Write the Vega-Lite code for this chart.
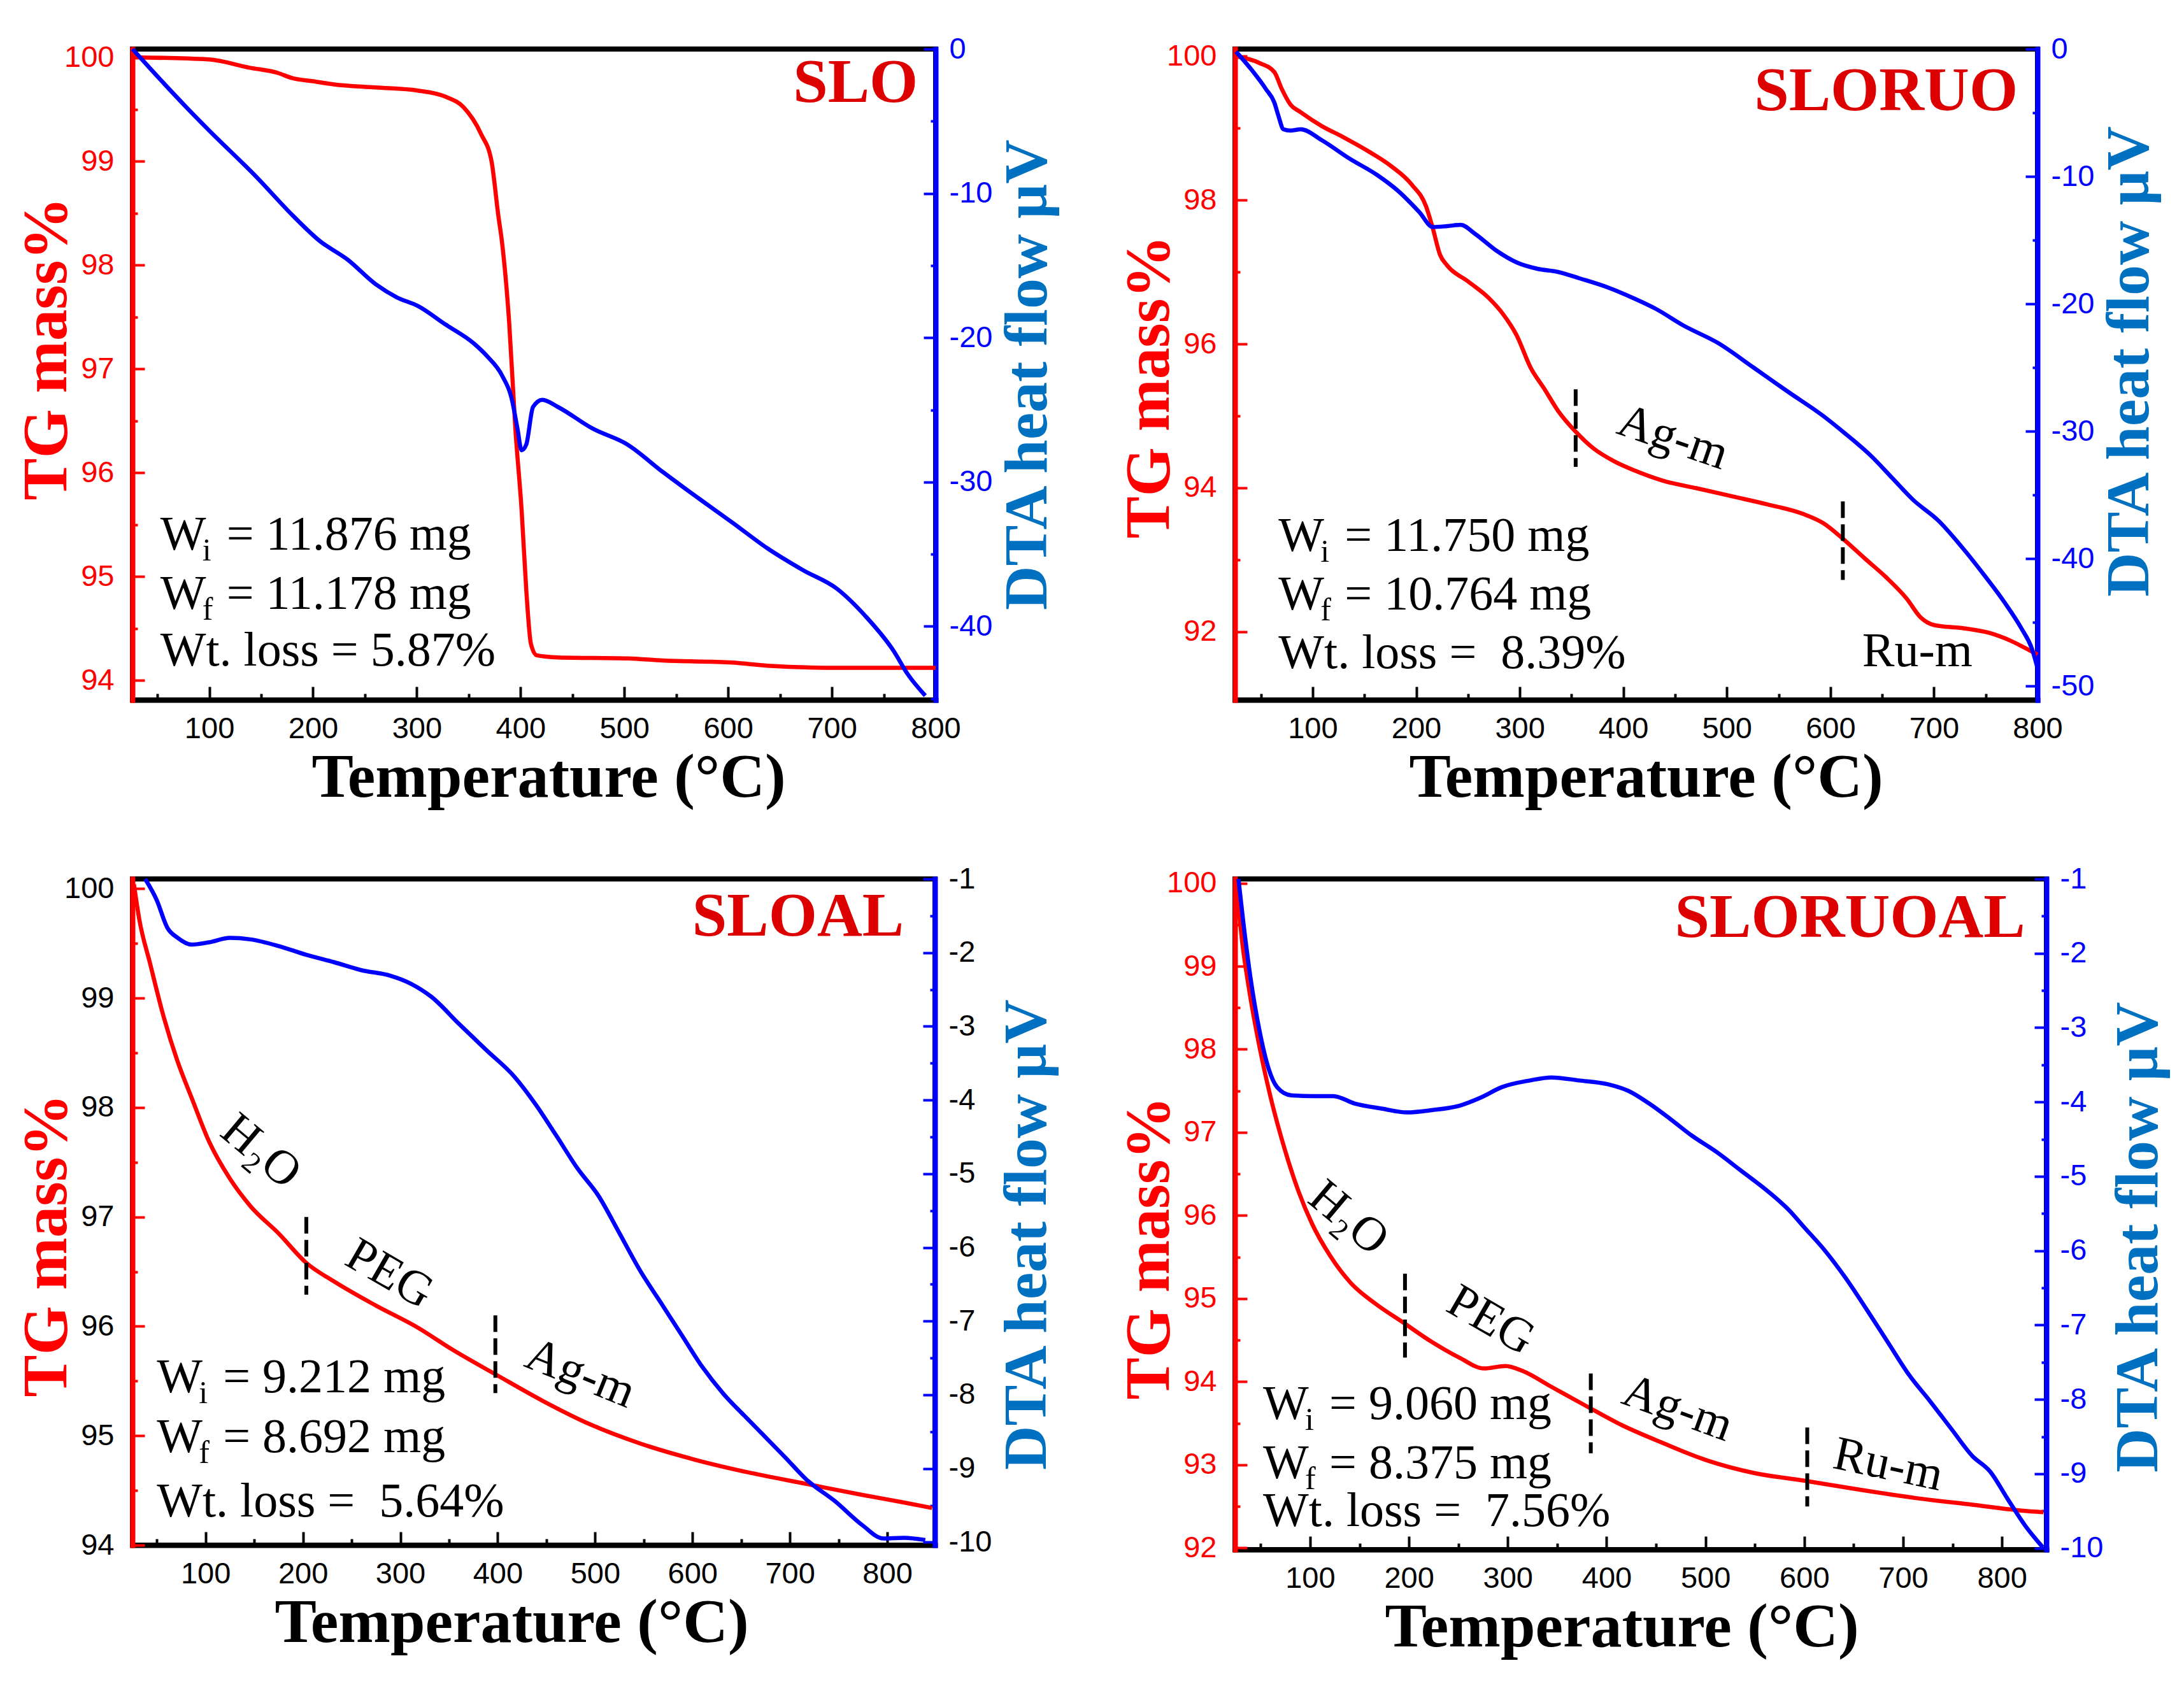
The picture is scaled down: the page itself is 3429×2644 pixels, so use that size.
{
  "$schema": "https://vega.github.io/schema/vega-lite/v6.json",
  "description": "TG / DTA curves of SLO, SLORUO, SLOAL and SLORUOAL",
  "background": "white",
  "padding": {"left": 20, "top": 49, "right": 10, "bottom": 10},
  "autosize": {"type": "pad"},
  "columns": 2,
  "spacing": {"row": 281, "column": 470},
  "bounds": "flush",
  "datasets": {
    "p1tg": [
      {"T": 26, "val": 100.0}, {"T": 99, "val": 99.98}, {"T": 139, "val": 99.9}, {"T": 166, "val": 99.85},
      {"T": 180, "val": 99.8}, {"T": 200, "val": 99.77}, {"T": 220, "val": 99.74}, {"T": 260, "val": 99.71},
      {"T": 301, "val": 99.68}, {"T": 328, "val": 99.62}, {"T": 345, "val": 99.52}, {"T": 362, "val": 99.26},
      {"T": 372, "val": 99.0}, {"T": 378.5, "val": 98.48}, {"T": 382, "val": 98.23}, {"T": 389, "val": 97.45},
      {"T": 395, "val": 96.42}, {"T": 401, "val": 95.64}, {"T": 405.5, "val": 94.87}, {"T": 410, "val": 94.35},
      {"T": 415.6, "val": 94.24}, {"T": 436, "val": 94.22}, {"T": 503, "val": 94.21}, {"T": 537, "val": 94.19},
      {"T": 604, "val": 94.17}, {"T": 638, "val": 94.14}, {"T": 705, "val": 94.12}, {"T": 800, "val": 94.12}
    ],
    "p1dta": [
      {"T": 26, "val": 0}, {"T": 44.7, "val": -1.48}, {"T": 78.4, "val": -4.07}, {"T": 98.7, "val": -5.56},
      {"T": 146, "val": -8.9}, {"T": 180, "val": -11.5}, {"T": 206.5, "val": -13.3}, {"T": 233.5, "val": -14.6},
      {"T": 260.5, "val": -16.3}, {"T": 280.7, "val": -17.2}, {"T": 301, "val": -17.8}, {"T": 328, "val": -19.1},
      {"T": 355, "val": -20.4}, {"T": 368, "val": -21.3}, {"T": 382, "val": -22.6}, {"T": 392, "val": -24.4},
      {"T": 397, "val": -26.3}, {"T": 401, "val": -27.8}, {"T": 405.5, "val": -27.4}, {"T": 412, "val": -24.8},
      {"T": 421, "val": -24.3}, {"T": 436, "val": -24.8}, {"T": 469.5, "val": -26.3}, {"T": 503, "val": -27.4},
      {"T": 537, "val": -29.3}, {"T": 571, "val": -31.1}, {"T": 604, "val": -32.8}, {"T": 638, "val": -34.6},
      {"T": 672, "val": -36.1}, {"T": 705, "val": -37.4}, {"T": 732.5, "val": -39.3}, {"T": 759.5, "val": -41.7},
      {"T": 773, "val": -43.3}, {"T": 790, "val": -44.8}
    ],
    "p1note": [
      {"T": 52.8, "y": 95.26, "w": "W", "s": "i", "r": "= 11.876 mg"},
      {"T": 52.8, "y": 94.69, "w": "W", "s": "f", "r": "= 11.178 mg"},
      {"T": 52.8, "y": 94.14, "w": "Wt. loss = 5.87%", "s": "", "r": ""}
    ],
    "p2tg": [
      {"T": 26, "val": 100.0}, {"T": 48, "val": 99.91}, {"T": 63, "val": 99.78}, {"T": 70, "val": 99.55},
      {"T": 78.5, "val": 99.33}, {"T": 88.6, "val": 99.22}, {"T": 108.7, "val": 99.03}, {"T": 129, "val": 98.88},
      {"T": 156, "val": 98.66}, {"T": 176, "val": 98.47}, {"T": 196, "val": 98.21}, {"T": 209.6, "val": 97.91},
      {"T": 216, "val": 97.61}, {"T": 223, "val": 97.24}, {"T": 230, "val": 97.09}, {"T": 250, "val": 96.87},
      {"T": 270, "val": 96.64}, {"T": 283.6, "val": 96.42}, {"T": 297, "val": 96.12}, {"T": 310.5, "val": 95.67},
      {"T": 324, "val": 95.37}, {"T": 337, "val": 95.07}, {"T": 354, "val": 94.78}, {"T": 371, "val": 94.55},
      {"T": 391, "val": 94.37}, {"T": 411, "val": 94.24}, {"T": 438, "val": 94.1}, {"T": 472, "val": 93.99},
      {"T": 505.5, "val": 93.88}, {"T": 539, "val": 93.77}, {"T": 573, "val": 93.64}, {"T": 593, "val": 93.51},
      {"T": 613, "val": 93.28}, {"T": 633, "val": 93.02}, {"T": 653.5, "val": 92.76}, {"T": 673.6, "val": 92.46},
      {"T": 687, "val": 92.2}, {"T": 700.5, "val": 92.09}, {"T": 727, "val": 92.05}, {"T": 754, "val": 91.98},
      {"T": 774.5, "val": 91.87}, {"T": 791, "val": 91.75}, {"T": 800, "val": 91.68}
    ],
    "p2dta": [
      {"T": 26, "val": -0.2}, {"T": 41.5, "val": -1.68}, {"T": 55, "val": -3.16}, {"T": 63, "val": -4.2},
      {"T": 67, "val": -5.26}, {"T": 71.8, "val": -6.3}, {"T": 78.5, "val": -6.4}, {"T": 88.6, "val": -6.3},
      {"T": 108.7, "val": -7.15}, {"T": 135.6, "val": -8.6}, {"T": 162.5, "val": -9.9}, {"T": 182.7, "val": -11.15},
      {"T": 203, "val": -12.8}, {"T": 216, "val": -13.97}, {"T": 230, "val": -13.9}, {"T": 243, "val": -13.8},
      {"T": 256.7, "val": -14.5}, {"T": 277, "val": -15.8}, {"T": 297, "val": -16.75}, {"T": 317, "val": -17.25},
      {"T": 337, "val": -17.5}, {"T": 357.6, "val": -18.0}, {"T": 384.5, "val": -18.7}, {"T": 411, "val": -19.6},
      {"T": 431.5, "val": -20.4}, {"T": 458, "val": -21.7}, {"T": 492, "val": -23.1}, {"T": 525.7, "val": -25.0},
      {"T": 559, "val": -26.9}, {"T": 593, "val": -28.8}, {"T": 613, "val": -30.1}, {"T": 640, "val": -32.0},
      {"T": 660, "val": -33.7}, {"T": 680, "val": -35.4}, {"T": 704, "val": -37.0}, {"T": 727, "val": -39.1},
      {"T": 747.6, "val": -41.2}, {"T": 767.8, "val": -43.4}, {"T": 784.6, "val": -45.5}, {"T": 794.7, "val": -47.1},
      {"T": 800, "val": -48.6}
    ],
    "p2note": [
      {"T": 67, "y": 93.12, "w": "W", "s": "i", "r": "= 11.750 mg"},
      {"T": 67, "y": 92.31, "w": "W", "s": "f", "r": "= 10.764 mg"},
      {"T": 67, "y": 91.49, "w": "Wt. loss = \u00a08.39%", "s": "", "r": ""}
    ],
    "p2lab": [
      {"T": 448, "y": 94.7, "lab": "Ag-m", "a": 19},
      {"T": 684, "y": 91.72, "lab": "Ru-m", "a": 0}
    ],
    "p2cut": [
      {"T": 354, "y1": 95.37, "y2": 94.29},
      {"T": 612, "y1": 93.81, "y2": 92.72}
    ],
    "p3tg": [
      {"T": 26.5, "val": 100.04}, {"T": 32, "val": 99.72}, {"T": 43, "val": 99.32}, {"T": 57, "val": 98.83},
      {"T": 71, "val": 98.43}, {"T": 85.7, "val": 98.09}, {"T": 103.6, "val": 97.69}, {"T": 125, "val": 97.35},
      {"T": 146, "val": 97.1}, {"T": 175, "val": 96.85}, {"T": 203.5, "val": 96.58}, {"T": 232, "val": 96.41},
      {"T": 275, "val": 96.19}, {"T": 317.7, "val": 95.99}, {"T": 353, "val": 95.79}, {"T": 400, "val": 95.55},
      {"T": 446, "val": 95.32}, {"T": 496, "val": 95.1}, {"T": 546, "val": 94.93}, {"T": 603, "val": 94.78},
      {"T": 660, "val": 94.66}, {"T": 717, "val": 94.56}, {"T": 774, "val": 94.46}, {"T": 817, "val": 94.39},
      {"T": 846, "val": 94.34}
    ],
    "p3dta": [
      {"T": 38, "val": -1.0}, {"T": 50, "val": -1.29}, {"T": 60.7, "val": -1.66}, {"T": 71.5, "val": -1.8},
      {"T": 85.7, "val": -1.89}, {"T": 103.6, "val": -1.86}, {"T": 125, "val": -1.8}, {"T": 146, "val": -1.82},
      {"T": 175, "val": -1.91}, {"T": 203.5, "val": -2.03}, {"T": 232, "val": -2.13}, {"T": 260.6, "val": -2.24},
      {"T": 289, "val": -2.31}, {"T": 310.6, "val": -2.42}, {"T": 332, "val": -2.6}, {"T": 360.5, "val": -2.97},
      {"T": 389, "val": -3.33}, {"T": 417.6, "val": -3.69}, {"T": 439, "val": -4.06}, {"T": 460.5, "val": -4.49},
      {"T": 482, "val": -4.93}, {"T": 503, "val": -5.29}, {"T": 524.7, "val": -5.8}, {"T": 546, "val": -6.31},
      {"T": 567.5, "val": -6.75}, {"T": 589, "val": -7.19}, {"T": 610, "val": -7.62}, {"T": 632, "val": -7.99},
      {"T": 653, "val": -8.28}, {"T": 674.6, "val": -8.57}, {"T": 696, "val": -8.86}, {"T": 717, "val": -9.15},
      {"T": 746, "val": -9.44}, {"T": 774.5, "val": -9.77}, {"T": 796, "val": -9.95}, {"T": 817, "val": -9.94},
      {"T": 839, "val": -9.97}
    ],
    "p3note": [
      {"T": 50, "y": 95.4, "w": "W", "s": "i", "r": "= 9.212 mg"},
      {"T": 50, "y": 94.85, "w": "W", "s": "f", "r": "= 8.692 mg"},
      {"T": 50, "y": 94.26, "w": "Wt. loss = \u00a05.64%", "s": "", "r": ""}
    ],
    "p3lab": [
      {"T": 157, "y": 97.6, "lab": "H₂O", "a": 40},
      {"T": 289, "y": 96.48, "lab": "PEG", "a": 30},
      {"T": 485, "y": 95.57, "lab": "Ag-m", "a": 22}
    ],
    "p3cut": [
      {"T": 203.5, "y1": 97.0, "y2": 96.29},
      {"T": 397.6, "y1": 96.1, "y2": 95.39}
    ],
    "p4tg": [
      {"T": 25.4, "val": 100.03}, {"T": 31, "val": 99.32}, {"T": 38, "val": 98.74}, {"T": 48.8, "val": 98.03},
      {"T": 59.5, "val": 97.45}, {"T": 74, "val": 96.81}, {"T": 88, "val": 96.3}, {"T": 102, "val": 95.9},
      {"T": 120, "val": 95.52}, {"T": 141, "val": 95.19}, {"T": 166, "val": 94.94}, {"T": 194.5, "val": 94.71},
      {"T": 223, "val": 94.48}, {"T": 251, "val": 94.29}, {"T": 276, "val": 94.16}, {"T": 297.6, "val": 94.19},
      {"T": 315, "val": 94.13}, {"T": 344, "val": 93.94}, {"T": 379, "val": 93.71}, {"T": 415, "val": 93.48},
      {"T": 457.5, "val": 93.26}, {"T": 500, "val": 93.06}, {"T": 550, "val": 92.9}, {"T": 600, "val": 92.81},
      {"T": 656.5, "val": 92.7}, {"T": 713, "val": 92.6}, {"T": 770, "val": 92.52}, {"T": 819.6, "val": 92.45},
      {"T": 842, "val": 92.43}
    ],
    "p4dta": [
      {"T": 27.5, "val": -1.0}, {"T": 32.5, "val": -1.59}, {"T": 39.6, "val": -2.32}, {"T": 48.8, "val": -3.04},
      {"T": 58, "val": -3.55}, {"T": 66.6, "val": -3.8}, {"T": 80.8, "val": -3.91}, {"T": 102, "val": -3.92},
      {"T": 123.5, "val": -3.92}, {"T": 145, "val": -4.02}, {"T": 173, "val": -4.09}, {"T": 198, "val": -4.14},
      {"T": 223, "val": -4.11}, {"T": 251, "val": -4.05}, {"T": 272.7, "val": -3.94}, {"T": 294, "val": -3.8},
      {"T": 322.5, "val": -3.71}, {"T": 344, "val": -3.67}, {"T": 372, "val": -3.71}, {"T": 400.6, "val": -3.76},
      {"T": 422, "val": -3.85}, {"T": 443, "val": -4.02}, {"T": 464.6, "val": -4.23}, {"T": 486, "val": -4.45},
      {"T": 511, "val": -4.67}, {"T": 535.7, "val": -4.92}, {"T": 564, "val": -5.21}, {"T": 585, "val": -5.46},
      {"T": 599.6, "val": -5.68}, {"T": 621, "val": -6.0}, {"T": 642, "val": -6.37}, {"T": 663.6, "val": -6.8},
      {"T": 685, "val": -7.24}, {"T": 706, "val": -7.67}, {"T": 727.6, "val": -8.03}, {"T": 749, "val": -8.4},
      {"T": 770, "val": -8.76}, {"T": 788, "val": -8.97}, {"T": 805.8, "val": -9.34}, {"T": 823.6, "val": -9.7},
      {"T": 841.4, "val": -9.99}
    ],
    "p4note": [
      {"T": 52.4, "y": 93.55, "w": "W", "s": "i", "r": "= 9.060 mg"},
      {"T": 52.4, "y": 92.84, "w": "W", "s": "f", "r": "= 8.375 mg"},
      {"T": 52.4, "y": 92.26, "w": "Wt. loss = \u00a07.56%", "s": "", "r": ""}
    ],
    "p4lab": [
      {"T": 139, "y": 95.97, "lab": "H₂O", "a": 40},
      {"T": 283, "y": 94.74, "lab": "PEG", "a": 30},
      {"T": 472, "y": 93.68, "lab": "Ag-m", "a": 20},
      {"T": 685, "y": 93.0, "lab": "Ru-m", "a": 12}
    ],
    "p4cut": [
      {"T": 196, "y1": 95.3, "y2": 94.29},
      {"T": 384, "y1": 94.1, "y2": 93.14},
      {"T": 603, "y1": 93.45, "y2": 92.5}
    ]
  },
  "concat": [
    {
      "width": 1261,
      "height": 1022,
      "layer": [
        {
          "layer": [
            {
              "data": {"name": "p1tg"},
              "mark": {"type": "line", "color": "#ff0000"},
              "encoding": {
                "x": {"field": "T", "type": "quantitative", "scale": {"domain": [26, 800], "nice": false, "zero": false},
                  "axis": {"orient": "bottom", "values": [50, 100, 150, 200, 250, 300, 350, 400, 450, 500, 550, 600, 650, 700, 750, 800],
                    "labelExpr": "datum.value % 100 === 0 ? '' + datum.value : ''",
                    "tickSize": {"condition": {"test": "datum.value % 100 === 0", "value": -21}, "value": -10},
                    "labelPadding": 43, "tickColor": "black", "domainColor": "black", "labelColor": "black",
                    "title": "Temperature (°C)", "titleColor": "black", "titleFontSize": 98, "titleX": 653,
                    "minExtent": 50, "maxExtent": 50, "titlePadding": 24}},
                "y": {"field": "val", "type": "quantitative", "scale": {"domain": [93.81, 100.08], "nice": false, "zero": false},
                  "axis": {"orient": "left", "values": [94, 94.5, 95, 95.5, 96, 96.5, 97, 97.5, 98, 98.5, 99, 99.5, 100],
                    "labelExpr": "datum.value % 1 === 0 ? '' + datum.value : ''",
                    "tickSize": {"condition": {"test": "datum.value % 1 === 0", "value": -19}, "value": -8},
                    "labelPadding": 48, "tickColor": "#ff0000", "domainColor": "#ff0000", "labelColor": "#ff0000",
                    "title": "TG mass%", "titleColor": "#ff0000", "titleFontSize": 99, "titleY": 470,
                    "minExtent": 60, "maxExtent": 60, "titlePadding": 24}}
              }
            },
            {
              "data": {"name": "p1note"},
              "mark": {"type": "text", "align": "left", "baseline": "alphabetic", "fontSize": 76},
              "encoding": {"x": {"field": "T", "type": "quantitative"}, "y": {"field": "y", "type": "quantitative"}, "text": {"field": "w"}}
            },
            {
              "data": {"name": "p1note"},
              "mark": {"type": "text", "align": "left", "baseline": "alphabetic", "fontSize": 50, "dx": 66, "dy": 17},
              "encoding": {"x": {"field": "T", "type": "quantitative"}, "y": {"field": "y", "type": "quantitative"}, "text": {"field": "s"}}
            },
            {
              "data": {"name": "p1note"},
              "mark": {"type": "text", "align": "left", "baseline": "alphabetic", "fontSize": 76, "dx": 104},
              "encoding": {"x": {"field": "T", "type": "quantitative"}, "y": {"field": "y", "type": "quantitative"}, "text": {"field": "r"}}
            },
            {
              "data": {"values": [{"T": 783, "y": 99.57, "n": "SLO"}]},
              "mark": {"type": "text", "align": "right", "baseline": "alphabetic", "fontSize": 98, "fontWeight": "bold", "color": "#dd0000"},
              "encoding": {"x": {"field": "T", "type": "quantitative"}, "y": {"field": "y", "type": "quantitative"}, "text": {"field": "n"}}
            }
          ]
        },
        {
          "data": {"name": "p1dta"},
          "mark": {"type": "line", "color": "#0000ff"},
          "encoding": {
            "x": {"field": "T", "type": "quantitative"},
            "y": {"field": "val", "type": "quantitative", "scale": {"domain": [-45.1, 0], "nice": false, "zero": false},
              "axis": {"orient": "right", "values": [0, -5, -10, -15, -20, -25, -30, -35, -40, -45],
                "labelExpr": "datum.value % 10 === 0 ? '' + datum.value : ''",
                "tickSize": {"condition": {"test": "datum.value % 10 === 0", "value": -19}, "value": -8},
                "labelPadding": 40, "tickColor": "#0000ff", "domainColor": "#0000ff", "labelColor": "#0000ff",
                "title": "DTA heat flow µV", "titleColor": "#0070c0", "titleAngle": 270, "titleBaseline": "top",
                "minExtent": 60, "maxExtent": 60, "titlePadding": 37}}
          }
        }
      ],
      "resolve": {"scale": {"y": "independent"}}
    },
    {
      "width": 1260,
      "height": 1022,
      "layer": [
        {
          "layer": [
            {
              "data": {"name": "p2tg"},
              "mark": {"type": "line", "color": "#ff0000"},
              "encoding": {
                "x": {"field": "T", "type": "quantitative", "scale": {"domain": [25, 800], "nice": false, "zero": false},
                  "axis": {"orient": "bottom", "values": [50, 100, 150, 200, 250, 300, 350, 400, 450, 500, 550, 600, 650, 700, 750, 800],
                    "labelExpr": "datum.value % 100 === 0 ? '' + datum.value : ''",
                    "tickSize": {"condition": {"test": "datum.value % 100 === 0", "value": -21}, "value": -10},
                    "labelPadding": 43, "tickColor": "black", "domainColor": "black", "labelColor": "black",
                    "title": "Temperature (°C)", "titleColor": "black", "titleFontSize": 98, "titleX": 645,
                    "minExtent": 50, "maxExtent": 50, "titlePadding": 24}},
                "y": {"field": "val", "type": "quantitative", "scale": {"domain": [91.05, 100.1], "nice": false, "zero": false},
                  "axis": {"orient": "left", "values": [92, 93, 94, 95, 96, 97, 98, 99, 100],
                    "labelExpr": "datum.value % 2 === 0 ? '' + datum.value : ''",
                    "tickSize": {"condition": {"test": "datum.value % 2 === 0", "value": -19}, "value": -8},
                    "labelPadding": 48, "tickColor": "#ff0000", "domainColor": "#ff0000", "labelColor": "#ff0000",
                    "title": "TG mass%", "titleColor": "#ff0000", "titleFontSize": 99, "titleY": 530,
                    "minExtent": 60, "maxExtent": 60, "titlePadding": 24}}
              }
            },
            {
              "data": {"name": "p2cut"},
              "mark": {"type": "rule", "color": "black", "strokeWidth": 6, "strokeDash": [26, 10]},
              "encoding": {"x": {"field": "T", "type": "quantitative"}, "y": {"field": "y1", "type": "quantitative"}, "y2": {"field": "y2"}}
            },
            {
              "data": {"name": "p2note"},
              "mark": {"type": "text", "align": "left", "baseline": "alphabetic", "fontSize": 76},
              "encoding": {"x": {"field": "T", "type": "quantitative"}, "y": {"field": "y", "type": "quantitative"}, "text": {"field": "w"}}
            },
            {
              "data": {"name": "p2note"},
              "mark": {"type": "text", "align": "left", "baseline": "alphabetic", "fontSize": 50, "dx": 66, "dy": 17},
              "encoding": {"x": {"field": "T", "type": "quantitative"}, "y": {"field": "y", "type": "quantitative"}, "text": {"field": "s"}}
            },
            {
              "data": {"name": "p2note"},
              "mark": {"type": "text", "align": "left", "baseline": "alphabetic", "fontSize": 76, "dx": 104},
              "encoding": {"x": {"field": "T", "type": "quantitative"}, "y": {"field": "y", "type": "quantitative"}, "text": {"field": "r"}}
            },
            {
              "data": {"name": "p2lab"},
              "mark": {"type": "text", "align": "center", "baseline": "middle", "fontSize": 76},
              "encoding": {"x": {"field": "T", "type": "quantitative"}, "y": {"field": "y", "type": "quantitative"}, "text": {"field": "lab"}, "angle": {"field": "a", "type": "quantitative", "scale": null}}
            },
            {
              "data": {"values": [{"T": 781, "y": 99.25, "n": "SLORUO"}]},
              "mark": {"type": "text", "align": "right", "baseline": "alphabetic", "fontSize": 98, "fontWeight": "bold", "color": "#dd0000"},
              "encoding": {"x": {"field": "T", "type": "quantitative"}, "y": {"field": "y", "type": "quantitative"}, "text": {"field": "n"}}
            }
          ]
        },
        {
          "data": {"name": "p2dta"},
          "mark": {"type": "line", "color": "#0000ff"},
          "encoding": {
            "x": {"field": "T", "type": "quantitative"},
            "y": {"field": "val", "type": "quantitative", "scale": {"domain": [-51.1, 0], "nice": false, "zero": false},
              "axis": {"orient": "right", "values": [0, -5, -10, -15, -20, -25, -30, -35, -40, -45, -50],
                "labelExpr": "datum.value % 10 === 0 ? '' + datum.value : ''",
                "tickSize": {"condition": {"test": "datum.value % 10 === 0", "value": -19}, "value": -8},
                "labelPadding": 40, "tickColor": "#0000ff", "domainColor": "#0000ff", "labelColor": "#0000ff",
                "title": "DTA heat flow µV", "titleColor": "#0070c0", "titleAngle": 270, "titleBaseline": "top", "titleY": 490,
                "minExtent": 60, "maxExtent": 60, "titlePadding": 37}}
          }
        }
      ],
      "resolve": {"scale": {"y": "independent"}}
    },
    {
      "width": 1260,
      "height": 1046,
      "layer": [
        {
          "layer": [
            {
              "data": {"name": "p3tg"},
              "mark": {"type": "line", "color": "#ff0000"},
              "encoding": {
                "x": {"field": "T", "type": "quantitative", "scale": {"domain": [25, 849], "nice": false, "zero": false},
                  "axis": {"orient": "bottom", "values": [50, 100, 150, 200, 250, 300, 350, 400, 450, 500, 550, 600, 650, 700, 750, 800],
                    "labelExpr": "datum.value % 100 === 0 ? '' + datum.value : ''",
                    "tickSize": {"condition": {"test": "datum.value % 100 === 0", "value": -21}, "value": -10},
                    "labelPadding": 43, "tickColor": "black", "domainColor": "black", "labelColor": "black",
                    "title": "Temperature (°C)", "titleColor": "black", "titleFontSize": 98, "titleX": 595,
                    "minExtent": 50, "maxExtent": 50, "titlePadding": 24}},
                "y": {"field": "val", "type": "quantitative", "scale": {"domain": [94, 100.09], "nice": false, "zero": false},
                  "axis": {"orient": "left", "values": [94, 94.5, 95, 95.5, 96, 96.5, 97, 97.5, 98, 98.5, 99, 99.5, 100],
                    "labelExpr": "datum.value % 1 === 0 ? '' + datum.value : ''",
                    "tickSize": {"condition": {"test": "datum.value % 1 === 0", "value": -19}, "value": -8},
                    "labelPadding": 48, "tickColor": "#ff0000", "domainColor": "#ff0000", "labelColor": "black",
                    "title": "TG mass%", "titleColor": "#ff0000", "titleFontSize": 99, "titleY": 575,
                    "minExtent": 60, "maxExtent": 60, "titlePadding": 24}}
              }
            },
            {
              "data": {"name": "p3cut"},
              "mark": {"type": "rule", "color": "black", "strokeWidth": 6, "strokeDash": [26, 10]},
              "encoding": {"x": {"field": "T", "type": "quantitative"}, "y": {"field": "y1", "type": "quantitative"}, "y2": {"field": "y2"}}
            },
            {
              "data": {"name": "p3note"},
              "mark": {"type": "text", "align": "left", "baseline": "alphabetic", "fontSize": 76},
              "encoding": {"x": {"field": "T", "type": "quantitative"}, "y": {"field": "y", "type": "quantitative"}, "text": {"field": "w"}}
            },
            {
              "data": {"name": "p3note"},
              "mark": {"type": "text", "align": "left", "baseline": "alphabetic", "fontSize": 50, "dx": 66, "dy": 17},
              "encoding": {"x": {"field": "T", "type": "quantitative"}, "y": {"field": "y", "type": "quantitative"}, "text": {"field": "s"}}
            },
            {
              "data": {"name": "p3note"},
              "mark": {"type": "text", "align": "left", "baseline": "alphabetic", "fontSize": 76, "dx": 104},
              "encoding": {"x": {"field": "T", "type": "quantitative"}, "y": {"field": "y", "type": "quantitative"}, "text": {"field": "r"}}
            },
            {
              "data": {"name": "p3lab"},
              "mark": {"type": "text", "align": "center", "baseline": "middle", "fontSize": 76},
              "encoding": {"x": {"field": "T", "type": "quantitative"}, "y": {"field": "y", "type": "quantitative"}, "text": {"field": "lab"}, "angle": {"field": "a", "type": "quantitative", "scale": null}}
            },
            {
              "data": {"values": [{"T": 817, "y": 99.57, "n": "SLOAL"}]},
              "mark": {"type": "text", "align": "right", "baseline": "alphabetic", "fontSize": 98, "fontWeight": "bold", "color": "#dd0000"},
              "encoding": {"x": {"field": "T", "type": "quantitative"}, "y": {"field": "y", "type": "quantitative"}, "text": {"field": "n"}}
            }
          ]
        },
        {
          "data": {"name": "p3dta"},
          "mark": {"type": "line", "color": "#0000ff"},
          "encoding": {
            "x": {"field": "T", "type": "quantitative"},
            "y": {"field": "val", "type": "quantitative", "scale": {"domain": [-10.04, -1], "nice": false, "zero": false},
              "axis": {"orient": "right", "values": [-1, -1.5, -2, -2.5, -3, -3.5, -4, -4.5, -5, -5.5, -6, -6.5, -7, -7.5, -8, -8.5, -9, -9.5, -10],
                "labelExpr": "datum.value % 1 === 0 ? '' + datum.value : ''",
                "tickSize": {"condition": {"test": "datum.value % 1 === 0", "value": -19}, "value": -8},
                "labelPadding": 40, "tickColor": "#0000ff", "domainColor": "#0000ff", "labelColor": "black",
                "title": "DTA heat flow µV", "titleColor": "#0070c0", "titleAngle": 270, "titleBaseline": "top", "titleY": 558,
                "minExtent": 60, "maxExtent": 60, "titlePadding": 37}}
          }
        }
      ],
      "resolve": {"scale": {"y": "independent"}}
    },
    {
      "width": 1274,
      "height": 1053,
      "layer": [
        {
          "layer": [
            {
              "data": {"name": "p4tg"},
              "mark": {"type": "line", "color": "#ff0000"},
              "encoding": {
                "x": {"field": "T", "type": "quantitative", "scale": {"domain": [24, 845], "nice": false, "zero": false},
                  "axis": {"orient": "bottom", "values": [50, 100, 150, 200, 250, 300, 350, 400, 450, 500, 550, 600, 650, 700, 750, 800],
                    "labelExpr": "datum.value % 100 === 0 ? '' + datum.value : ''",
                    "tickSize": {"condition": {"test": "datum.value % 100 === 0", "value": -21}, "value": -10},
                    "labelPadding": 43, "tickColor": "black", "domainColor": "black", "labelColor": "black",
                    "title": "Temperature (°C)", "titleColor": "black", "titleFontSize": 98, "titleX": 607,
                    "minExtent": 50, "maxExtent": 50, "titlePadding": 24}},
                "y": {"field": "val", "type": "quantitative", "scale": {"domain": [91.98, 100.05], "nice": false, "zero": false},
                  "axis": {"orient": "left", "values": [92, 92.5, 93, 93.5, 94, 94.5, 95, 95.5, 96, 96.5, 97, 97.5, 98, 98.5, 99, 99.5, 100],
                    "labelExpr": "datum.value % 1 === 0 ? '' + datum.value : ''",
                    "tickSize": {"condition": {"test": "datum.value % 1 === 0", "value": -19}, "value": -8},
                    "labelPadding": 48, "tickColor": "#ff0000", "domainColor": "#ff0000", "labelColor": "#ff0000",
                    "title": "TG mass%", "titleColor": "#ff0000", "titleFontSize": 99, "titleY": 579,
                    "minExtent": 60, "maxExtent": 60, "titlePadding": 24}}
              }
            },
            {
              "data": {"name": "p4cut"},
              "mark": {"type": "rule", "color": "black", "strokeWidth": 6, "strokeDash": [26, 10]},
              "encoding": {"x": {"field": "T", "type": "quantitative"}, "y": {"field": "y1", "type": "quantitative"}, "y2": {"field": "y2"}}
            },
            {
              "data": {"name": "p4note"},
              "mark": {"type": "text", "align": "left", "baseline": "alphabetic", "fontSize": 76},
              "encoding": {"x": {"field": "T", "type": "quantitative"}, "y": {"field": "y", "type": "quantitative"}, "text": {"field": "w"}}
            },
            {
              "data": {"name": "p4note"},
              "mark": {"type": "text", "align": "left", "baseline": "alphabetic", "fontSize": 50, "dx": 66, "dy": 17},
              "encoding": {"x": {"field": "T", "type": "quantitative"}, "y": {"field": "y", "type": "quantitative"}, "text": {"field": "s"}}
            },
            {
              "data": {"name": "p4note"},
              "mark": {"type": "text", "align": "left", "baseline": "alphabetic", "fontSize": 76, "dx": 104},
              "encoding": {"x": {"field": "T", "type": "quantitative"}, "y": {"field": "y", "type": "quantitative"}, "text": {"field": "r"}}
            },
            {
              "data": {"name": "p4lab"},
              "mark": {"type": "text", "align": "center", "baseline": "middle", "fontSize": 76},
              "encoding": {"x": {"field": "T", "type": "quantitative"}, "y": {"field": "y", "type": "quantitative"}, "text": {"field": "lab"}, "angle": {"field": "a", "type": "quantitative", "scale": null}}
            },
            {
              "data": {"values": [{"T": 823.5, "y": 99.35, "n": "SLORUOAL"}]},
              "mark": {"type": "text", "align": "right", "baseline": "alphabetic", "fontSize": 98, "fontWeight": "bold", "color": "#dd0000"},
              "encoding": {"x": {"field": "T", "type": "quantitative"}, "y": {"field": "y", "type": "quantitative"}, "text": {"field": "n"}}
            }
          ]
        },
        {
          "data": {"name": "p4dta"},
          "mark": {"type": "line", "color": "#0000ff"},
          "encoding": {
            "x": {"field": "T", "type": "quantitative"},
            "y": {"field": "val", "type": "quantitative", "scale": {"domain": [-10.02, -1], "nice": false, "zero": false},
              "axis": {"orient": "right", "values": [-1, -1.5, -2, -2.5, -3, -3.5, -4, -4.5, -5, -5.5, -6, -6.5, -7, -7.5, -8, -8.5, -9, -9.5, -10],
                "labelExpr": "datum.value % 1 === 0 ? '' + datum.value : ''",
                "tickSize": {"condition": {"test": "datum.value % 1 === 0", "value": -19}, "value": -8},
                "labelPadding": 40, "tickColor": "#0000ff", "domainColor": "#0000ff", "labelColor": "#0000ff",
                "title": "DTA heat flow µV", "titleColor": "#0070c0", "titleAngle": 270, "titleBaseline": "top", "titleY": 562,
                "minExtent": 60, "maxExtent": 60, "titlePadding": 37}}
          }
        }
      ],
      "resolve": {"scale": {"y": "independent"}}
    }
  ],
  "config": {
    "view": {"stroke": "black", "strokeWidth": 8},
    "axis": {
      "grid": false,
      "labelFont": "Liberation Sans",
      "labelFontSize": 47,
      "labelFlush": false,
      "labelOverlap": false,
      "titleFont": "Liberation Serif",
      "titleFontSize": 96,
      "titleFontWeight": "bold",
      "domainWidth": 8,
      "domainCap": "square",
      "tickWidth": 4
    },
    "text": {"font": "Liberation Serif", "color": "black"},
    "line": {"strokeWidth": 6.5, "interpolate": "monotone"}
  }
}
